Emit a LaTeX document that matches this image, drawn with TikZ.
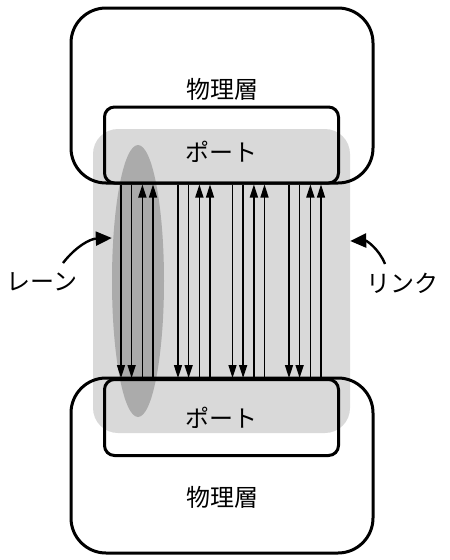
\documentclass[tikz,border=0pt]{standalone}
\usepackage{fontspec}
\newfontfamily\jpfont{Noto Sans CJK JP}
\usetikzlibrary{positioning,arrows.meta,shapes.geometric}

\begin{document}
\begin{tikzpicture}[x=1pt,y=-1pt,font=\jpfont\fontsize{24}{28}\selectfont,
    layer/.style={draw,line width=3pt,rounded corners=35pt,minimum width=302pt,minimum height=175pt},
    port/.style={draw,line width=3pt,rounded corners=10pt,minimum width=234pt,minimum height=76pt},
    txt/.style={inner sep=1pt},
    wire/.style={line width=1.6pt,-{Triangle[length=13pt,width=8pt]}},
    cv/.style={line width=2.4pt,-{Triangle[length=16pt,width=14pt]}}]
  \useasboundingbox (0,0) rectangle (450,560);
  % link and lane
  \node[fill=black!15,rounded corners=25pt,minimum width=257pt,minimum height=304pt] (link) at (221.5,281) {};
  \node[ellipse,fill=black!33,minimum width=52pt,minimum height=272pt,inner sep=0pt] (lane) at (138,281) {};
  % physical layers and ports
  \node[layer] (tphy) at (222,95.5) {};
  \node[port] (tport) at (221.5,145) {};
  \node[layer] (bphy) at (222,465.5) {};
  \node[port] (bport) at (221.5,417.5) {};
  \node[txt] (tphytxt) at (222,89) {物理層};
  \node[txt] (tporttxt) at (221.5,152) {ポート};
  \node[txt] (bporttxt) at (221.5,418) {ポート};
  \node[txt] (bphytxt) at (222,497) {物理層};
  % lanes: two down, two up in each group
  \foreach \xx in {121,178,232.5,289}{
    \draw[wire] (tport.south -| \xx,0) -- (bport.north -| \xx,0);
    \draw[wire] (tport.south -| \xx+10.6,0) -- (bport.north -| \xx+10.6,0);
    \draw[wire] (bport.north -| \xx+21.4,0) -- (tport.south -| \xx+21.4,0);
    \draw[wire] (bport.north -| \xx+32,0) -- (tport.south -| \xx+32,0);
  }
  % labels
  \node[txt] (lanetxt) at (42,282) {レーン};
  \node[txt] (linktxt) at (402,283) {リンク};
  \coordinate (lanetail) at (63,263);
  \coordinate (linktail) at (385,264);
  \draw[cv] (lanetail) to[bend left=25] (lane.west |- 0,238);
  \draw[cv] (linktail) to[bend right=35] (link.east |- 0,241);
\end{tikzpicture}
\end{document}
